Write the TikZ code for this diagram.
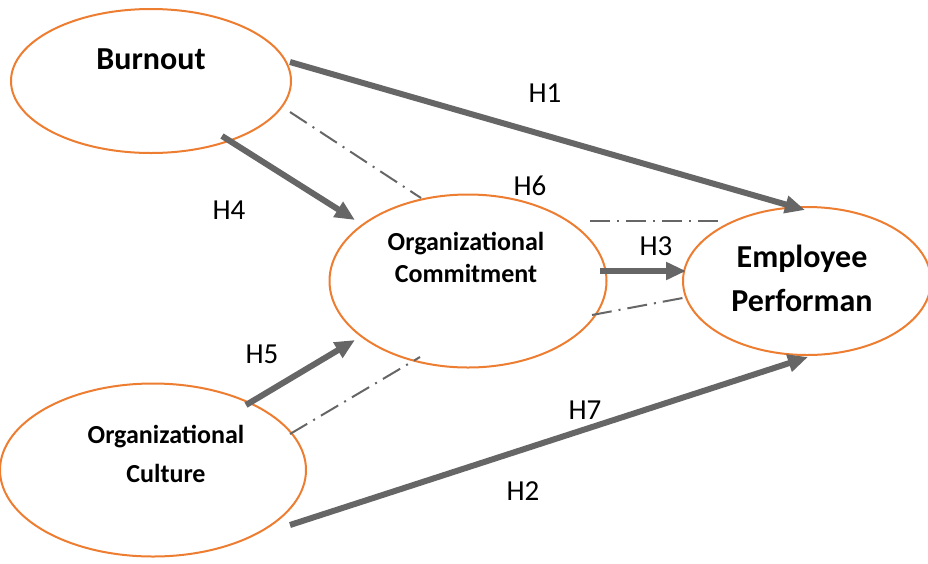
\documentclass[tikz,border=0pt]{standalone}
\usepackage{fontspec}
\setmainfont{Carlito}
\usetikzlibrary{shapes.geometric,arrows.meta}
\definecolor{eorange}{HTML}{ED7D31}
\definecolor{agray}{HTML}{666666}
\tikzset{
  oval/.style={ellipse, draw=eorange, line width=2pt, fill=white, inner sep=0pt},
  bigarrow/.style={draw=agray, line width=6pt, -{Triangle[length=20pt,width=17pt]}},
  dashdot/.style={draw=agray, line width=2pt, dash pattern=on 20pt off 7pt on 2pt off 7pt},
  hlab/.style={font=\fontsize{29}{33}\selectfont, text=black, inner sep=0pt},
  bigtxt/.style={font=\bfseries\fontsize{32}{44}\selectfont, align=center, inner sep=0pt},
  midtxt/.style={font=\bfseries\fontsize{26}{32}\selectfont, align=center, inner sep=0pt},
}
\begin{document}
\begin{tikzpicture}[x=1pt,y=-1pt]
\useasboundingbox (0,0) rectangle (928,563);
% ellipses
\node[oval, minimum width=280pt, minimum height=144pt] (burn) at (151,81) {};
\node[oval, minimum width=277pt, minimum height=173pt] (comm) at (468,281) {};
\node[oval, minimum width=248pt, minimum height=148pt] (perf) at (807,281) {};
\node[oval, minimum width=306pt, minimum height=173pt] (cult) at (153,470) {};
% texts
\node[bigtxt] (tburn) at (151,59) {Burnout};
\node[midtxt] (tcomm) at (466,257) {Organizational\\Commitment};
\node[bigtxt] (tperf) at (802,278) {Employee\\Performan};
\node[midtxt, font=\bfseries\fontsize{26}{39}\selectfont] (tcult) at (166,454) {Organizational\\Culture};
% anchor coordinates
\coordinate (b1) at (290,62);
\coordinate (b2) at (222,136);
\coordinate (b3) at (290,112);
\coordinate (c1) at (355,220);
\coordinate (c2) at (421,198);
\coordinate (c3) at (600,271);
\coordinate (c4) at (590,221);
\coordinate (c5) at (592,315);
\coordinate (c6) at (355,340);
\coordinate (c7) at (420,357);
\coordinate (p1) at (805,210);
\coordinate (p2) at (686,271);
\coordinate (p3) at (718,221);
\coordinate (p4) at (688,297);
\coordinate (p5) at (808,357);
\coordinate (u1) at (246,405);
\coordinate (u2) at (290,434);
\coordinate (u3) at (290,525);
% dash-dot lines
\draw[dashdot] (b3) -- (c2);
\draw[dashdot] (c4) -- (p3);
\draw[dashdot] (c5) -- (p4);
\draw[dashdot] (u2) -- (c7);
% arrows
\draw[bigarrow] (b1) -- (p1);
\draw[bigarrow] (b2) -- (c1);
\draw[bigarrow] (c3) -- (p2);
\draw[bigarrow] (u1) -- (c6);
\draw[bigarrow] (u3) -- (p5);
% labels
\node[hlab] (h1) at (545,93) {H1};
\node[hlab] (h4) at (229,210) {H4};
\node[hlab] (h6) at (530,186) {H6};
\node[hlab] (h3) at (656,246) {H3};
\node[hlab] (h5) at (262,354) {H5};
\node[hlab] (h7) at (585,410) {H7};
\node[hlab] (h2) at (523,491) {H2};
\end{tikzpicture}
\end{document}
